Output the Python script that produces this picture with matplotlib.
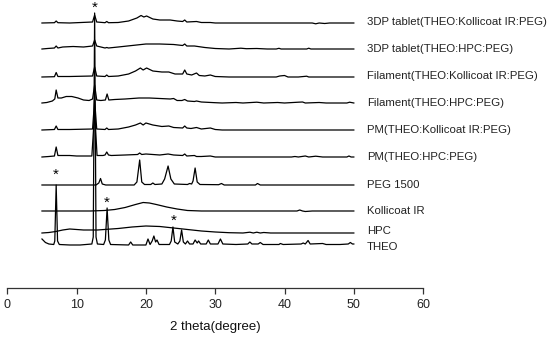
import matplotlib
matplotlib.use("Agg")
import matplotlib.pyplot as plt

plt.rcParams['font.family'] = ['Liberation Sans', 'DejaVu Sans']

# XRD traces: (2theta, height above own baseline)
theo = [(5, 6), (5.5, 2.5), (6, 1), (6.7, 0.5), (6.85, 4), (7.05, 60), (7.25, 4), (7.5, 0.5),
        (9, 0), (10.5, 0), (12.2, 1), (12.4, 8), (12.6, 232), (12.8, 8), (13.0, 1), (13.9, 0.5),
        (14.15, 5), (14.4, 37), (14.65, 5), (14.9, 0.5), (17.5, 0), (17.8, 3), (18.1, 0), (20.0, 0),
        (20.3, 6), (20.6, 0.5), (20.9, 4), (21.15, 9), (21.4, 3), (21.6, 5), (21.9, 0.5), (23.4, 0.5),
        (23.65, 4), (23.9, 18), (24.15, 3), (24.6, 1), (24.9, 4), (25.15, 15), (25.4, 3), (25.7, 1),
        (26.0, 4), (26.3, 1), (26.8, 1), (27.1, 5), (27.4, 2), (27.6, 4), (27.9, 1), (28.7, 1),
        (29.0, 5), (29.3, 1), (30.4, 1), (30.75, 6), (31.1, 1), (33, 0.5), (34.7, 1), (35.0, 3),
        (35.3, 1), (36.2, 1), (36.5, 2.5), (36.9, 0.5), (39.2, 0.5), (39.4, 1.5), (39.8, 0.5),
        (42.4, 1), (42.7, 2), (43.0, 1), (43.4, 4.5), (43.7, 1), (45.5, 1.5), (46, 0.5), (48, 0.5),
        (49.2, 1), (49.5, 2.5), (49.8, 1), (50, 1)]
hpc = [(5, 0), (6, 0.5), (7, 1.5), (8, 3), (9, 4), (10, 3.5), (11, 3), (12, 3), (13, 3), (14, 3.5),
       (16, 4.5), (18, 6), (20, 7), (22, 6.5), (24, 5), (26, 3.5), (28, 2), (30, 1), (32, 0.3),
       (34, 0), (35, 0.8), (35.5, 0), (36, 0.8), (36.5, 0), (37, 0.5), (38, 0), (50, 0)]
kollicoat = [(5, 0), (12, 0), (14, 0.5), (15.5, 1.5), (17, 3.5), (18.5, 6.5), (19.6, 8.5), (20.5, 8),
             (21.5, 6.5), (23, 4), (24.5, 2), (26, 0.5), (28, 0), (41.8, 0), (42.2, 1), (42.6, 0),
             (43.0, -0.5), (44, 0), (50, 0)]
peg = [(5, 0), (12.8, 0), (13.2, 2), (13.45, 6.5), (13.7, 1), (14.2, 0), (18.3, 0), (18.7, 3),
       (19.1, 25), (19.4, 3), (19.8, 0.5), (20.7, 0.5), (21.0, 2), (21.3, 0.5), (22.3, 1), (22.7, 6),
       (23.2, 19), (23.6, 6), (24.1, 1), (26.0, 0.5), (26.3, 1.5), (26.6, 1), (26.8, 4), (27.1, 17),
       (27.4, 3), (27.8, 0.5), (30.5, 0.3), (30.9, 1.5), (31.3, 0), (35.8, 0), (36.1, 1.5),
       (36.5, 0), (50, 0)]
pm_hpc = [(5, 0), (6, 0.5), (6.8, 1), (7.05, 10), (7.3, 1.5), (8, 1.5), (9, 1.5), (10, 1), (12.2, 1),
          (12.6, 45), (12.95, 1.5), (13.8, 1.5), (14.1, 2), (14.35, 5), (14.6, 2), (15, 1.5), (17, 2),
          (18.8, 2.5), (19.1, 4), (19.4, 2.5), (20, 3), (21, 2.5), (22, 2), (23.2, 3), (24, 2),
          (25.3, 1.5), (25.6, 3), (25.9, 1), (27, 1.5), (27.3, 0.5), (28, 0.5), (29.3, 1), (30, 0),
          (41, 0), (41.5, 0.5), (42, 0), (43, 1), (43.5, 0), (44.5, 0.8), (45.5, 0), (49, 0),
          (49.3, 1), (49.6, 0), (50, 0)]
pm_koll = [(5, 0), (6.8, 0.5), (7.05, 4), (7.3, 0.5), (9, 0.5), (12.3, 1), (12.6, 30), (12.9, 1),
           (14.1, 0.5), (14.35, 2), (14.6, 0.5), (16, 1), (17.5, 3), (18.5, 5), (19.2, 7), (19.6, 5),
           (20.0, 7), (21, 5), (22.3, 3.5), (23.3, 4), (24, 2.5), (25.3, 2), (25.6, 4), (25.9, 2),
           (26.5, 1.5), (27.3, 2.5), (28, 1), (29.3, 2), (30, 0.5), (31, 0), (50, 0)]
fil_hpc = [(5, 0), (5.7, 0.5), (6.5, 2), (6.85, 4), (7.05, 13), (7.3, 5), (7.8, 5), (8.5, 6.5),
           (9.3, 6.5), (10.2, 5), (11, 3), (11.8, 2.5), (12.3, 4), (12.6, 18), (12.9, 3), (13.5, 2.5),
           (14.15, 3), (14.4, 9), (14.65, 3), (15.5, 3.5), (17, 4), (19, 5), (20.5, 5), (22, 4.5),
           (23.5, 4), (24.0, 4.5), (24.5, 2.5), (25.2, 2.5), (25.6, 3.5), (26, 2), (27, 1.5),
           (27.3, 2), (28, 1), (30, 0.3), (31, 0), (33, 0.5), (34, 0), (36, 0.8), (37, 0), (39, 0.5),
           (40, 0), (42, 0.8), (42.6, 1), (43, 0), (45, 0.5), (46, 0), (49, 0), (49.4, 0.8), (50, 0)]
fil_koll = [(5, 0), (6.8, 0.3), (7.05, 4.5), (7.3, 0.5), (9, 0.5), (12.3, 1), (12.6, 10), (12.9, 1),
            (14.1, 0.5), (14.35, 2), (14.6, 0.5), (16, 1), (17.5, 3), (18.5, 6), (19.2, 9), (19.6, 7),
            (20.1, 9), (21, 6), (22.3, 5), (23.3, 5), (24.2, 3), (25.3, 3), (25.6, 7), (25.9, 3),
            (26.6, 2), (27.3, 4), (27.7, 1.5), (28.5, 1), (29.3, 2), (30, 0.5), (32, 0), (38.8, 0),
            (39.3, 1), (40, 1.5), (40.5, 0), (42, 0), (43.2, 0.8), (43.5, 0), (50, 0)]
tab_hpc = [(5, 0), (5.8, 0.5), (6.8, 1), (7.05, 3), (7.3, 1), (8, 2), (9.5, 2.5), (11, 2), (12.3, 3),
           (12.6, 9), (12.9, 3), (14.1, 1), (14.35, 1.5), (14.6, 1), (16, 2), (18, 3.5), (20, 5),
           (22, 5), (24, 4.5), (25.3, 3.5), (25.6, 5), (25.9, 3), (27, 3), (28.5, 1.5), (30, 0.5),
           (32, 0), (33.7, 0.8), (34.5, 0.3), (36, 0.5), (37.5, 0), (38.8, 0), (39.2, 0.7), (39.5, 0),
           (43.2, 0), (43.5, 0.8), (43.8, 0), (50, 0)]
tab_koll = [(5, 0), (6.8, 0.3), (7.05, 2), (7.3, 0.3), (9, 0), (12.3, 1), (12.6, 8), (12.9, 1),
            (14.1, 0.3), (14.35, 1.5), (14.6, 0.3), (16, 0.5), (17.5, 2), (18.7, 5), (19.3, 7.5),
            (19.7, 6), (20.1, 7), (21, 4), (22, 3), (23.5, 3), (24.5, 2), (25.3, 1.5), (25.6, 3),
            (25.9, 1), (27.3, 1.5), (28, 0.5), (29.3, 0.5), (30, 0), (44, 0), (44.5, -0.8), (45, 0),
            (45.8, -0.5), (46.5, 0), (50, 0)]

traces = [theo, hpc, kollicoat, peg, pm_hpc, pm_koll, fil_hpc, fil_koll, tab_hpc, tab_koll]
offsets = [43, 55, 77, 103, 131, 158, 185, 211, 239, 265]
names = ["THEO", "HPC", "Kollicoat IR", "PEG 1500", "PM(THEO:HPC:PEG)",
         "PM(THEO:Kollicoat IR:PEG)", "Filament(THEO:HPC:PEG)",
         "Filament(THEO:Kollicoat IR:PEG)", "3DP tablet(THEO:HPC:PEG)",
         "3DP tablet(THEO:Kollicoat IR:PEG)"]
name_y = [41, 57, 77, 103, 131, 158, 184.5, 211.5, 238.5, 266]

# asterisks marking THEO peaks
star_x = [12.6, 7.05, 14.4, 24.0]
star_y = [280, 113, 85, 67]

fig = plt.figure(figsize=(5.5, 3.44), dpi=100)
ax = fig.add_axes([0.0133, 0.1628, 0.756, 0.8372])

for tr, off in zip(traces, offsets):
    xs = [p[0] for p in tr]
    ys = [p[1] + off for p in tr]
    ax.plot(xs, ys, color='black', lw=0.9)

for name, y in zip(names, name_y):
    ax.text(51.9, y, name, fontsize=8.2, va='center', ha='left', color='#222222')

for x, y in zip(star_x, star_y):
    ax.text(x, y, "*", fontsize=11, ha='center', va='center', color='black')

ax.set_xlim(0, 60)
ax.set_ylim(0, 288)
ax.set_xticks([0, 10, 20, 30, 40, 50, 60])
ax.set_yticks([])
for s in ['left', 'top', 'right']:
    ax.spines[s].set_visible(False)
ax.spines['bottom'].set_color('#333333')
ax.spines['bottom'].set_linewidth(0.9)
ax.tick_params(axis='x', direction='out', length=4, width=0.9, color='#333333',
               labelsize=9, labelcolor='#222222', pad=4)
ax.set_xlabel("2 theta(degree)", fontsize=9.5, labelpad=7, color='#111111')

fig.savefig("out.png", dpi=100)
